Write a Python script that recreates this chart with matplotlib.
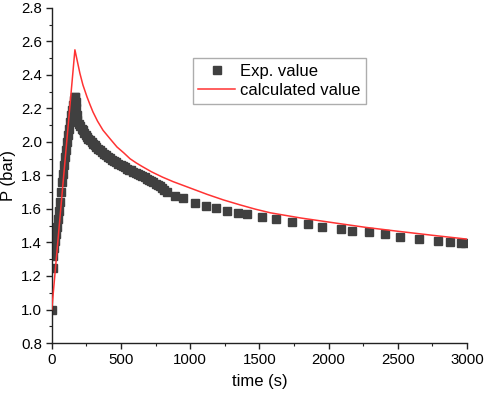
import matplotlib
matplotlib.use("Agg")
import matplotlib.pyplot as plt
from matplotlib.ticker import MultipleLocator

plt.rcParams['font.family'] = ['Liberation Sans', 'DejaVu Sans']

# Experimental data (time s, pressure bar)
exp_t = [0, 7, 7, 14, 22, 29, 36, 43, 51, 58, 65, 72, 80, 87, 94, 101, 109, 116,
         123, 130, 138, 145, 152, 159, 167, 170, 173, 176, 180, 185,
         195, 205, 215, 225, 235, 245, 255, 265, 276, 287, 298, 310, 322, 335,
         348, 362, 376, 391, 406, 421, 436, 451, 466, 481, 497, 512, 528, 543,
         559, 575, 590, 606, 622, 638, 654, 670, 686, 702, 718, 734, 750, 766,
         782, 798, 814, 830,
         891, 949, 1036, 1116, 1188, 1268, 1348, 1413, 1522, 1623, 1732, 1848,
         1949, 2087, 2167, 2290, 2406, 2514, 2652, 2790, 2877, 2957, 2985]
exp_p = [1.00, 1.25, 1.32, 1.37, 1.41, 1.45, 1.49, 1.54, 1.59, 1.64, 1.70, 1.76,
         1.81, 1.86, 1.91, 1.95, 2.00, 2.04, 2.08, 2.12, 2.16, 2.19, 2.22, 2.25,
         2.27, 2.27, 2.24, 2.20, 2.16, 2.13,
         2.11, 2.095, 2.08, 2.07, 2.055, 2.04, 2.03, 2.02, 2.01, 2.00, 1.99,
         1.98, 1.97, 1.96, 1.95, 1.94, 1.93, 1.92, 1.91, 1.905, 1.895, 1.885,
         1.88, 1.87, 1.865, 1.855, 1.85, 1.84, 1.835, 1.83, 1.82, 1.815, 1.81,
         1.80, 1.795, 1.79, 1.78, 1.775, 1.765, 1.76, 1.75, 1.745, 1.735, 1.725,
         1.715, 1.70,
         1.678, 1.666, 1.636, 1.618, 1.606, 1.588, 1.576, 1.570, 1.552, 1.540,
         1.522, 1.510, 1.493, 1.481, 1.469, 1.463, 1.451, 1.433, 1.421, 1.409,
         1.403, 1.397, 1.397]

# Calculated curve
calc_t = [0, 167, 185, 203, 225, 254, 275, 297, 330, 370, 420, 471, 520, 565,
          610, 650, 720, 800, 877, 1000, 1123, 1240, 1362, 1470, 1580, 1800,
          2050, 2270, 2500, 2750, 3000]
calc_p = [1.00, 2.55, 2.48, 2.41, 2.34, 2.27, 2.225, 2.18, 2.125, 2.07, 2.02,
          1.97, 1.935, 1.90, 1.875, 1.855, 1.822, 1.79, 1.763, 1.725, 1.687,
          1.654, 1.624, 1.599, 1.577, 1.546, 1.516, 1.49, 1.467, 1.443, 1.42]

x_ticks = [0, 500, 1000, 1500, 2000, 2500, 3000]
y_ticks = [0.8, 1.0, 1.2, 1.4, 1.6, 1.8, 2.0, 2.2, 2.4, 2.6, 2.8]

fig = plt.figure(figsize=(4.84, 3.97), dpi=100)
ax = fig.add_axes([0.107, 0.136, 0.858, 0.844])

ax.plot(exp_t, exp_p, linestyle='none', marker='s', markersize=5.2,
        color='#404040', label='Exp. value', zorder=2)
ax.plot(calc_t, calc_p, color='#ff3333', linewidth=1.1,
        label='calculated value', zorder=3)

ax.set_xlim(0, 3000)
ax.set_ylim(0.8, 2.8)
ax.set_xticks(x_ticks)
ax.set_yticks(y_ticks)
ax.set_yticklabels([f"{v:.1f}" for v in y_ticks])
ax.xaxis.set_minor_locator(MultipleLocator(250))
ax.yaxis.set_minor_locator(MultipleLocator(0.1))

for s in ['top', 'right']:
    ax.spines[s].set_visible(False)
for s in ['left', 'bottom']:
    ax.spines[s].set_linewidth(1.0)
    ax.spines[s].set_color('#222222')

ax.tick_params(which='major', direction='out', length=4, width=1.0,
               labelsize=10.8, colors='#222222', pad=3)
ax.tick_params(which='minor', direction='out', length=2.5, width=0.8,
               colors='#222222')
for lab in ax.get_xticklabels() + ax.get_yticklabels():
    lab.set_color('black')

ax.set_xlabel('time (s)', fontsize=12, labelpad=5)
ax.set_ylabel('P (bar)', fontsize=12, labelpad=4)

leg = ax.legend(loc='upper left', bbox_to_anchor=(0.339, 0.85), fontsize=12,
                frameon=True, fancybox=False, edgecolor='#999999',
                handlelength=2.2, borderpad=0.35, labelspacing=0.25,
                handletextpad=0.3, borderaxespad=0)
leg.get_frame().set_linewidth(1.0)

fig.savefig('out.png', dpi=100)
